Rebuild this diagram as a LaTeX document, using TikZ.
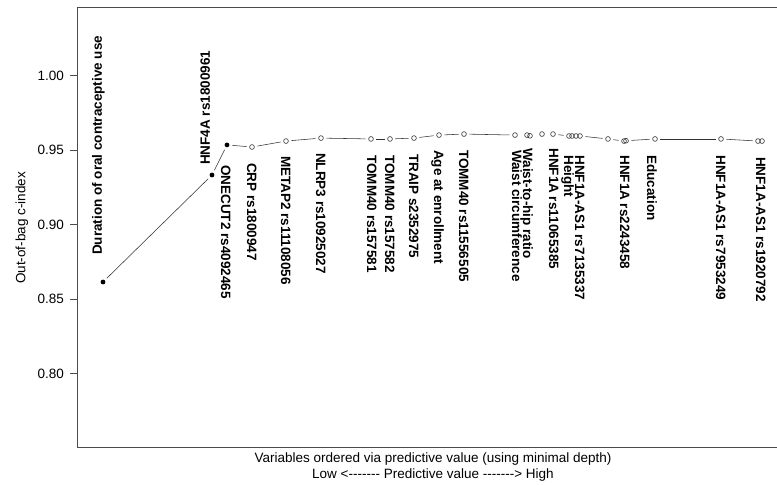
\documentclass[tikz,border=0pt]{standalone}
\usepackage{fontspec}
\setmainfont{Liberation Sans}
\usepackage{tikz}

\begin{document}
\fontsize{13.5}{16}\selectfont
\begin{tikzpicture}
		[x=1pt,y=1490pt,
		open node/.style={draw=black!80,shape=circle,line width=.6pt,inner sep=0pt,minimum size=4.8pt,outer sep=3pt},
		full node/.style={draw=none,fill=black,shape=circle,inner sep=0pt,minimum size=4.8pt,outer sep=3pt},
		down label/.style={rotate=-90,anchor=west,inner sep=0pt,text height=.72em,text depth=0pt,font=\bfseries},
		up label/.style={rotate=90,anchor=west,inner sep=0pt,text height=.72em,text depth=0pt,font=\bfseries},
		axis/.style={draw=black!70,line width=.7pt},
		link/.style={draw=black!80,line width=.55pt}]
		
		\def \lo {0.7507}
		\def \hi {1.046}
		\useasboundingbox (0,0.7245) rectangle (777,1.05067);
		\clip (0,0.7245) rectangle (777,1.05067);
		
		\draw[axis] (790,\hi) -- (77,\hi) -- (77,\lo) -- (790,\lo);
		
		\draw[axis] (70,0.80) -- (77,0.80);
		\draw[axis] (70,0.85) -- (77,0.85);
		\draw[axis] (70,0.90) -- (77,0.90);
		\draw[axis] (70,0.95) -- (77,0.95);
		\draw[axis] (70,1.00) -- (77,1.00);
		\node[anchor=east,inner sep=0pt] (t1) at (64,0.80) {0.80};
		\node[anchor=east,inner sep=0pt] (t2) at (64,0.85) {0.85};
		\node[anchor=east,inner sep=0pt] (t3) at (64,0.90) {0.90};
		\node[anchor=east,inner sep=0pt] (t4) at (64,0.95) {0.95};
		\node[anchor=east,inner sep=0pt] (t5) at (64,1.00) {1.00};
		
		\node[rotate=90] (ylab) at (22,0.8977) {Out-of-bag c-index};
		\node (xlab) at (433,0.7426) {Variables ordered via predictive value (using minimal depth)};
		\node (xlab2) at (433,0.7319) {Low <-\kern0pt-\kern0pt-\kern0pt-\kern0pt-\kern0pt-\kern0pt- Predictive value -\kern0pt-\kern0pt-\kern0pt-\kern0pt-\kern0pt-\kern0pt-> High};
		
		\node[full node] (1) at (103,0.8614) {};
		\node[full node] (2) at (212,0.9332) {};
		\node[full node] (3) at (227,0.9534) {};
		\node[open node] (4) at (252,0.9520) {};
		\node[open node] (5) at (286,0.9560) {};
		\node[open node] (6) at (321,0.9580) {};
		\node[open node] (7) at (371,0.9574) {};
		\node[open node] (8) at (390,0.9574) {};
		\node[open node] (9) at (414,0.9580) {};
		\node[open node] (10) at (439,0.9600) {};
		\node[open node] (11) at (464,0.9607) {};
		\node[open node] (12) at (515,0.9600) {};
		\node[open node] (13) at (527,0.9600) {};
		\node[open node] (14) at (530,0.9595) {};
		\node[open node] (15) at (542,0.9607) {};
		\node[open node] (16) at (553,0.9607) {};
		\node[open node] (17) at (569,0.9594) {};
		\node[open node] (18) at (572,0.9594) {};
		\node[open node] (19) at (576,0.9594) {};
		\node[open node] (20) at (580,0.9594) {};
		\node[open node] (21) at (608,0.9574) {};
		\node[open node] (22) at (624,0.9560) {};
		\node[open node] (23) at (626,0.9562) {};
		\node[open node] (24) at (655,0.9574) {};
		\node[open node] (25) at (721,0.9574) {};
		\node[open node] (26) at (758,0.9560) {};
		\node[open node] (27) at (762,0.9560) {};
		
		\draw[link] (1) to (2);
		\draw[link] (2) to (3);
		\draw[link] (3) to (4);
		\draw[link] (4) to (5);
		\draw[link] (5) to (6);
		\draw[link] (6) to (7);
		\draw[link] (7) to (8);
		\draw[link] (8) to (9);
		\draw[link] (9) to (10);
		\draw[link] (10) to (11);
		\draw[link] (11) to (12);
		\draw[link] (16) to (17);
		\draw[link] (20) to (21);
		\draw[link] (21) to (22);
		\draw[link] (23) to (24);
		\draw[link] (24) to (25);
		\draw[link] (25) to (26);
		
		\node[up label] (l1) at (97,0.8795) {Duration of oral contraceptive use};
		\node[up label] (l2) at (205,0.9399) {HNF4A rs1800961};
		\node[down label] (l3) at (226,0.9399) {ONECUT2 rs4092465};
		\node[down label] (l4) at (252,0.9413) {CRP rs1800947};
		\node[down label] (l5) at (286,0.9460) {METAP2 rs11108056};
		\node[down label] (l6) at (321,0.9480) {NLRP3 rs10925027};
		\node[down label] (l7) at (372,0.9466) {TOMM40 rs157581};
		\node[down label] (l8) at (390,0.9466) {TOMM40 rs157582};
		\node[down label] (l9) at (414,0.9473) {TRAIP s2352975};
		\node[down label] (l10) at (439,0.9500) {Age at enrollment};
		\node[down label] (l11) at (464,0.9500) {TOMM40 rs11556505};
		\node[down label] (l12) at (517,0.9500) {Waist circumference};
		\node[down label] (l13) at (528,0.9513) {Waist-to-hip ratio};
		\node[down label] (l14) at (554,0.9513) {HNF1A rs11065385};
		\node[down label] (l15) at (569,0.9466) {Height};
		\node[down label] (l16) at (580,0.9466) {HNF1A-AS1 rs7135337};
		\node[down label] (l17) at (625,0.9466) {HNF1A rs2243458};
		\node[down label] (l18) at (652,0.9466) {Education};
		\node[down label] (l19) at (721,0.9466) {HNF1A-AS1 rs7953249};
		\node[down label] (l20) at (761,0.9453) {HNF1A-AS1 rs1920792};
		\end{tikzpicture}
\end{document}
